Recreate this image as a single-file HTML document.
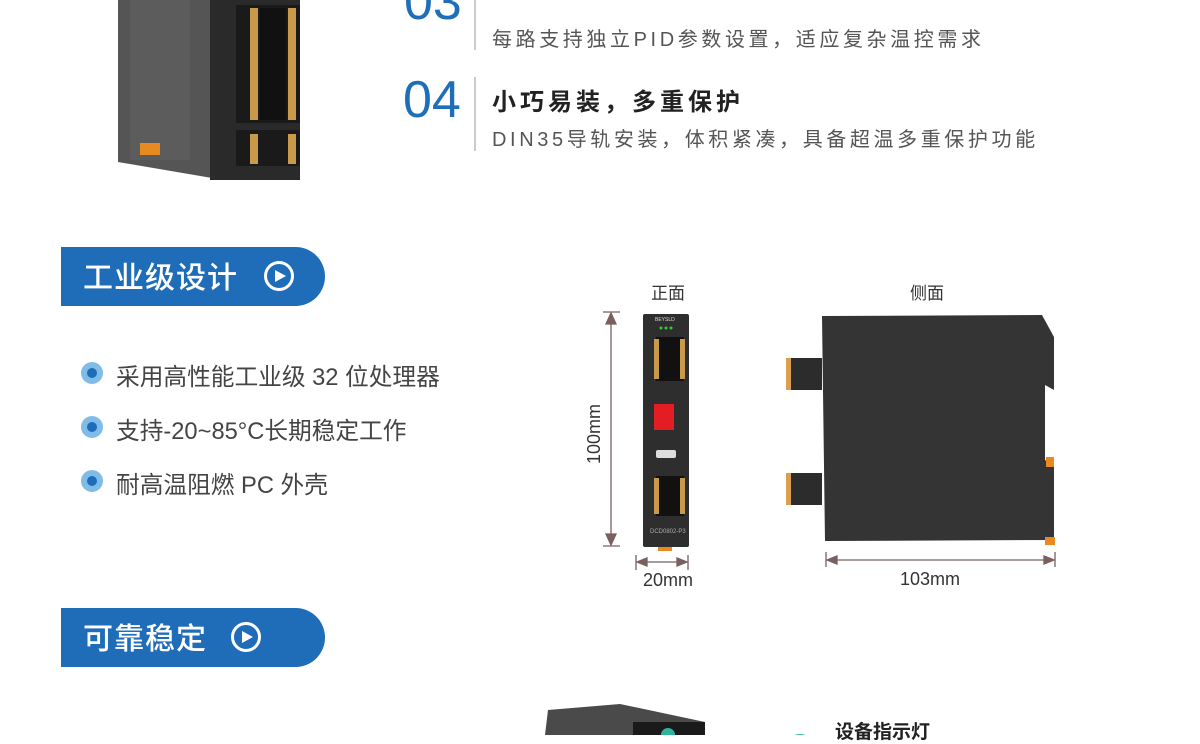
<!DOCTYPE html>
<html><head><meta charset="utf-8"><style>
body{margin:0;width:1200px;height:735px;overflow:hidden;background:#fff;font-family:"Liberation Sans","Noto Sans CJK SC",sans-serif;position:relative}
.a{position:absolute;white-space:nowrap}
.num{color:#1e6fb8;font-size:52px;line-height:1;font-family:"Liberation Sans",sans-serif}
.sub{color:#555;font-size:20px;letter-spacing:3.6px}
.btn{position:absolute;left:61px;width:264px;height:59px;background:#1f6db8;border-radius:0 30px 30px 0;color:#fff;font-size:30px;font-weight:500}
.btn span{position:absolute;left:22px;top:6px;letter-spacing:1px}
.btn i{position:absolute;width:24px;height:24px;border:3px solid #fff;border-radius:50%;top:14px}
.btn i:after{content:"";position:absolute;left:8px;top:6px;border-left:11px solid #fff;border-top:6px solid transparent;border-bottom:6px solid transparent}
.bl{position:absolute;left:81px;width:22px;height:22px;border-radius:50%;background:#7fbde8}
.bl:after{content:"";position:absolute;left:6px;top:6px;width:10px;height:10px;border-radius:50%;background:#1f6db8}
.bt{position:absolute;left:116px;font-size:23.7px;color:#444}
</style></head><body>
<svg class="a" style="left:0;top:0" width="1200" height="735">
 <polygon points="118,0 212,0 212,178 118,162" fill="#555"/>
 <rect x="130" y="0" width="60" height="160" fill="#5c5c5c"/>
 <rect x="140" y="143" width="20" height="12" fill="#e88a20"/>
 <rect x="210" y="0" width="90" height="180" fill="#2a2a2a"/>
 <rect x="236" y="5" width="64" height="118" fill="#1a1a1a"/>
 <rect x="250" y="8" width="8" height="112" fill="#c99a4a"/>
 <rect x="288" y="8" width="8" height="112" fill="#c99a4a"/>
 <rect x="260" y="8" width="26" height="112" fill="#111"/>
 <rect x="236" y="130" width="64" height="36" fill="#1a1a1a"/>
 <rect x="250" y="134" width="8" height="30" fill="#c99a4a"/>
 <rect x="288" y="134" width="8" height="30" fill="#c99a4a"/>
 <line x1="475" y1="0" x2="475" y2="50" stroke="#bbb" stroke-width="1.5"/>
 <line x1="475" y1="77" x2="475" y2="151" stroke="#bbb" stroke-width="1.5"/>
 <rect x="643" y="314" width="46" height="233" rx="2" fill="#2e2e2e"/>
 <rect x="656" y="337" width="28" height="44" fill="#111"/>
 <rect x="654" y="339" width="5" height="40" fill="#c99a4a"/><rect x="680" y="339" width="5" height="40" fill="#c99a4a"/>
 <rect x="654" y="404" width="20" height="26" fill="#e41c24"/>
 <rect x="656" y="450" width="20" height="8" rx="2" fill="#ddd"/>
 <rect x="656" y="476" width="28" height="40" fill="#111"/>
 <rect x="654" y="478" width="5" height="36" fill="#c99a4a"/><rect x="680" y="478" width="5" height="36" fill="#c99a4a"/>
 <circle cx="661" cy="328" r="1.5" fill="#3c3"/><circle cx="666" cy="328" r="1.5" fill="#3c3"/><circle cx="671" cy="328" r="1.5" fill="#3c3"/>
 <text x="655" y="321" font-size="5" fill="#ddd" font-family="Liberation Sans">BEYSLD</text>
 <text x="650" y="533" font-size="6" fill="#aaa" font-family="Liberation Sans">DCD0802-P3</text>
 <rect x="658" y="547" width="14" height="4" fill="#e88a20"/>
 <polygon points="822,316 1042,315 1054,337 1054,390 1045,385 1045,460 1054,465 1054,540 825,541" fill="#343434"/>
 <rect x="786" y="358" width="36" height="32" fill="#2c2c2c"/><rect x="786" y="358" width="5" height="32" fill="#d9a050"/>
 <rect x="786" y="473" width="36" height="32" fill="#2c2c2c"/><rect x="786" y="473" width="5" height="32" fill="#d9a050"/>
 <rect x="1046" y="457" width="8" height="10" fill="#e88a20"/>
 <rect x="1045" y="537" width="10" height="8" fill="#e88a20"/>
 <g stroke="#7a5f5f" stroke-width="1.3" fill="#7a5f5f">
  <line x1="603" y1="312" x2="620" y2="312"/><line x1="603" y1="546" x2="620" y2="546"/>
  <line x1="611" y1="316" x2="611" y2="542"/>
  <polygon points="611,313 606,324 616,324"/><polygon points="611,545 606,534 616,534"/>
  <line x1="636" y1="555" x2="636" y2="570"/><line x1="688" y1="555" x2="688" y2="570"/>
  <line x1="638" y1="562" x2="686" y2="562"/>
  <polygon points="637,562 647,558 647,566"/><polygon points="687,562 677,558 677,566"/>
  <line x1="826" y1="552" x2="826" y2="567"/><line x1="1055" y1="552" x2="1055" y2="567"/>
  <line x1="828" y1="560" x2="1053" y2="560"/>
  <polygon points="827,560 837,556 837,564"/><polygon points="1054,560 1044,556 1044,564"/>
 </g>
 <text x="603" y="434" font-size="18" fill="#333" transform="rotate(-90 603 434)" text-anchor="middle" font-family="Liberation Sans" dy="-3">100mm</text>
 <polygon points="548,710 620,704 705,722 705,735 545,735" fill="#4a4a4a"/>
 <rect x="633" y="722" width="72" height="13" fill="#1a1a1a"/>
 <circle cx="668" cy="735" r="7" fill="#2fb39a"/>
 <circle cx="800" cy="750" r="16" fill="#2fb39a"/>
</svg>
<div class="a num" style="left:404px;top:-24px">03</div>
<div class="a" style="left:492px;top:-31px;font-size:24px;font-weight:bold;color:#222;letter-spacing:4px">智能PID控制</div>
<div class="a sub" style="left:492px;top:23px;letter-spacing:3.6px">每路支持独立PID参数设置，适应复杂温控需求</div>
<div class="a num" style="left:403px;top:74px">04</div>
<div class="a" style="left:492px;top:82px;font-size:24px;font-weight:bold;color:#222;letter-spacing:4px">小巧易装，多重保护</div>
<div class="a sub" style="left:492px;top:123px;letter-spacing:3.6px">DIN35导轨安装，体积紧凑，具备超温多重保护功能</div>
<div class="btn" style="top:247px"><span>工业级设计</span><i style="left:203px"></i></div>
<div class="bl" style="top:362px"></div><div class="bt" style="top:358px">采用高性能工业级 32 位处理器</div>
<div class="bl" style="top:416px"></div><div class="bt" style="top:412px">支持-20~85°C长期稳定工作</div>
<div class="bl" style="top:470px"></div><div class="bt" style="top:466px">耐高温阻燃 PC 外壳</div>
<div class="btn" style="top:608px"><span>可靠稳定</span><i style="left:170px"></i></div>
<div class="a" style="left:651px;top:279px;font-size:17px;color:#333">正面</div>
<div class="a" style="left:910px;top:279px;font-size:17px;color:#333">侧面</div>
<div class="a" style="left:643px;top:570px;font-size:18px;color:#333">20mm</div>
<div class="a" style="left:900px;top:569px;font-size:18px;color:#333">103mm</div>
<div class="a" style="left:835px;top:717px;font-size:19px;font-weight:bold;color:#222">设备指示灯</div>
</body></html>
